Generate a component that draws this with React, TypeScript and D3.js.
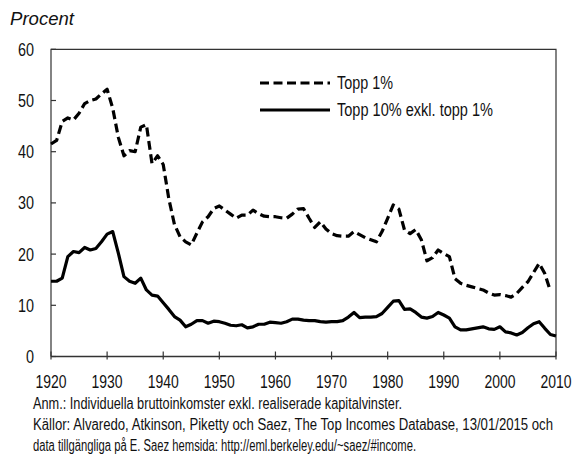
import React from "react";
import * as d3 from "d3";

const top1Years: number[] = d3.range(1920, 2010);
const top1Values: number[] = [
  41.5, 42.2, 45.9, 46.6, 46.2, 47.5, 49.4, 50.0, 50.3, 51.3,
  52.2, 48.5, 42.8, 39.2, 40.2, 40.0, 44.8, 45.3, 37.7, 39.2,
  37.5, 30.8, 25.8, 23.4, 22.4, 21.8, 24.1, 26.3, 27.3, 28.9,
  29.4, 28.6, 27.8, 27.0, 27.6, 27.6, 28.6, 27.9, 27.4, 27.3,
  27.3, 27.1, 27.0, 27.8, 28.8, 28.9, 27.0, 25.2, 26.3, 24.9,
  24.0, 23.6, 23.5, 23.5, 24.4, 23.8, 23.2, 22.8, 22.4, 24.4,
  27.0, 29.6, 28.8, 24.7, 24.0, 24.8, 22.8, 18.7, 19.3, 20.8,
  20.1, 19.5, 15.2, 14.3, 13.9, 13.6, 13.3, 13.0, 12.4, 12.0,
  12.1, 11.9, 11.6, 12.3, 13.5, 14.6, 16.4, 18.2, 16.2, 12.8,
];

const top10Years: number[] = d3.range(1920, 2011);
const top10Values: number[] = [
  14.7, 14.7, 15.3, 19.5, 20.5, 20.3, 21.3, 20.8, 21.1, 22.4,
  23.9, 24.4, 20.2, 15.6, 14.7, 14.3, 15.3, 13.0, 12.0, 11.8,
  10.5, 9.2, 7.8, 7.1, 5.8, 6.3, 7.0, 7.0, 6.5, 6.9,
  6.8, 6.5, 6.1, 6.0, 6.2, 5.6, 5.8, 6.3, 6.3, 6.7,
  6.6, 6.5, 6.8, 7.3, 7.3, 7.1, 7.0, 7.0, 6.8, 6.7,
  6.8, 6.8, 7.0, 7.7, 8.6, 7.6, 7.7, 7.7, 7.8, 8.4,
  9.6, 10.8, 10.9, 9.2, 9.3, 8.6, 7.7, 7.5, 7.8, 8.6,
  8.1, 7.5, 5.8, 5.2, 5.2, 5.4, 5.6, 5.8, 5.4, 5.3,
  5.8, 4.8, 4.6, 4.2, 4.7, 5.6, 6.4, 6.8, 5.5, 4.3,
  4.0,
];

const xTicks: number[] = d3.range(1920, 2011, 10);
const yTicks: number[] = [0, 10, 20, 30, 40, 50, 60];
const seriesNames: string[] = ["Topp 1%", "Topp 10% exkl. topp 1%"];
const yTitle = "Procent";
const notes: string[] = [
  "Anm.: Individuella bruttoinkomster exkl. realiserade kapitalvinster.",
  "Källor: Alvaredo, Atkinson, Piketty och Saez, The Top Incomes Database, 13/01/2015 och",
  "data tillgängliga på E. Saez hemsida: http://eml.berkeley.edu/~saez/#income.",
];

const W = 577;
const H = 459;
const left = 51;
const right = 556;
const top = 49.3;
const bottom = 356.5;
const sans = "'Liberation Sans', Arial, sans-serif";
const noteWidths = [369, 520, 383];
const legendWidths = [56, 156];

export default function App() {
  const x = d3.scaleLinear().domain([1920, 2010]).range([left, right]);
  const y = d3.scaleLinear().domain([0, 60]).range([bottom, top]);
  const line = d3
    .line<[number, number]>()
    .x((d) => x(d[0]))
    .y((d) => y(d[1]));
  const top1 = top1Years.map((yr, i) => [yr, top1Values[i]] as [number, number]);
  const top10 = top10Years.map((yr, i) => [yr, top10Values[i]] as [number, number]);
  const axisColor = "#333";
  return (
    <svg
      width={W}
      height={H}
      style={{ position: "absolute", left: 0, top: 0, background: "#fff" }}
    >
      <rect x={0} y={0} width={W} height={H} fill="#fff" />
      <text
        x={10}
        y={25}
        fontFamily={sans}
        fontStyle="italic"
        fontSize={18}
        fill="#111"
        textLength={64}
        lengthAdjust="spacingAndGlyphs"
      >
        {yTitle}
      </text>
      <path
        d={`M${left},${bottom}V${top}H${right}V${bottom}`}
        fill="none"
        stroke={axisColor}
        strokeWidth={1.2}
      />
      <line x1={left} x2={right} y1={bottom} y2={bottom} stroke={axisColor} strokeWidth={1.5} />
      {yTicks.map((t) => (
        <g key={"y" + t}>
          <line x1={left} x2={left + 5} y1={y(t)} y2={y(t)} stroke={axisColor} strokeWidth={1.2} />
          <text
            x={34}
            y={y(t)}
            dy="0.36em"
            textAnchor="end"
            fontFamily={sans}
            fontSize={18}
            fill="#111"
            textLength={String(t).length * 8}
            lengthAdjust="spacingAndGlyphs"
          >
            {t}
          </text>
        </g>
      ))}
      {xTicks.map((t) => (
        <g key={"x" + t}>
          <line x1={x(t)} x2={x(t)} y1={bottom - 5} y2={bottom + 3} stroke={axisColor} strokeWidth={1.2} />
          <text
            x={x(t)}
            y={388}
            textAnchor="middle"
            fontFamily={sans}
            fontSize={18}
            fill="#111"
            textLength={31}
            lengthAdjust="spacingAndGlyphs"
          >
            {t}
          </text>
        </g>
      ))}
      <path
        d={line(top1) || ""}
        fill="none"
        stroke="#000"
        strokeWidth={3.2}
        strokeDasharray="9,4.5"
        strokeLinejoin="round"
      />
      <path
        d={line(top10) || ""}
        fill="none"
        stroke="#000"
        strokeWidth={3.2}
        strokeLinejoin="round"
      />
      <line x1={260} x2={330} y1={83} y2={83} stroke="#000" strokeWidth={3.2} strokeDasharray="9,4.5" />
      <line x1={260} x2={330} y1={110} y2={110} stroke="#000" strokeWidth={3.2} />
      {seriesNames.map((s, i) => (
        <text
          key={s}
          x={337}
          y={83 + i * 27}
          dy="0.36em"
          fontFamily={sans}
          fontSize={18}
          fill="#111"
          textLength={legendWidths[i]}
          lengthAdjust="spacingAndGlyphs"
        >
          {s}
        </text>
      ))}
      {notes.map((n, i) => (
        <text
          key={i}
          x={33}
          y={409 + i * 21}
          fontFamily={sans}
          fontSize={16}
          fill="#111"
          textLength={noteWidths[i]}
          lengthAdjust="spacingAndGlyphs"
        >
          {n}
        </text>
      ))}
    </svg>
  );
}
